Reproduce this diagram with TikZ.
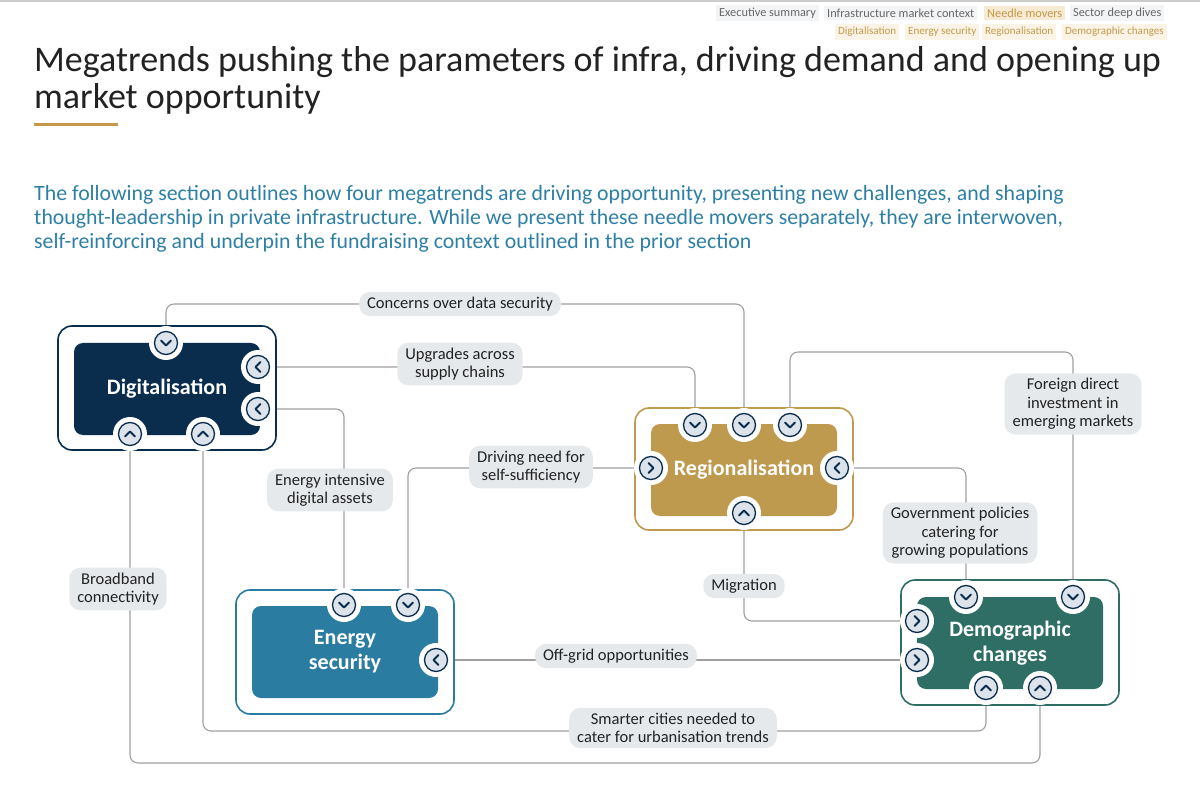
\documentclass[tikz,border=0pt]{standalone}
\usepackage{fontspec}
\setmainfont{Carlito}
\usetikzlibrary{backgrounds}
\definecolor{navy}{HTML}{0B2D4D}
\definecolor{eblue}{HTML}{2A7CA0}
\definecolor{gold}{HTML}{BE9A4E}
\definecolor{teal}{HTML}{2E6E65}
\definecolor{circ}{HTML}{DCE3EA}
\definecolor{pill}{HTML}{E6E9EC}
\definecolor{sub}{HTML}{2E7FA6}
\definecolor{ttl}{HTML}{222222}
\definecolor{goldtxt}{HTML}{C49A4A}
\definecolor{goldbg}{HTML}{F6EAD2}
\definecolor{tabbg}{HTML}{F3F4F5}
\definecolor{lgold}{HTML}{FBF3E6}
\tikzset{
 conn/.style={draw=gray!75, line width=1.1pt},
 lab/.style={fill=pill, rounded corners=11pt, align=center, font=\fontsize{16.5}{18.5}\selectfont, text=ttl, inner xsep=8pt, inner ysep=5pt},
 box/.style={rounded corners=9pt, minimum width=186pt, minimum height=92pt, text=white, font=\fontsize{22}{25}\selectfont\bfseries, align=center},
 frame/.style={rounded corners=14pt, line width=1.6pt},
 cir/.style={circle, minimum size=23pt, inner sep=0pt, fill=circ, draw=navy, line width=1.3pt},
 tab/.style={font=\fontsize{12.3}{14}\selectfont, text=gray!80!black, fill=tabbg, inner sep=3pt, anchor=west},
 stab/.style={font=\fontsize{11}{12}\selectfont, text=goldtxt, fill=lgold, inner sep=3pt, anchor=west},
}
\newcommand{\chev}[4]{%
 \node[cir] (#1) at (#2,#3) {};
 \draw[navy, line width=1.8pt, line cap=round, line join=round, rotate around={#4:(#1.center)}] ([xshift=-5pt,yshift=2.5pt]#1.center) -- ([yshift=-2.5pt]#1.center) -- ([xshift=5pt,yshift=2.5pt]#1.center);
}
\begin{document}
\begin{tikzpicture}[x=1pt,y=-1pt]
\useasboundingbox (0,0) rectangle (1200,786);
% nav
\draw[gray!40, line width=2pt] (0,1) -- (1200,1);
\node[tab] (t1) at (716,13) {Executive summary};
\node[tab] (t2) at (824,13) {Infrastructure market context};
\node[tab, fill=goldbg, text=goldtxt] (t3) at (984,13) {Needle movers};
\node[tab] (t4) at (1070,13) {Sector deep dives};
\node[stab] (s1) at (835,32) {Digitalisation};
\node[stab] (s2) at (905,32) {Energy security};
\node[stab] (s3) at (982,32) {Regionalisation};
\node[stab] (s4) at (1062,32) {Demographic changes};
% title
\node[anchor=north west, align=left, text=ttl, font=\fontsize{36}{37}\selectfont, inner sep=0pt] (title) at (34,46) {Megatrends pushing the parameters of infra, driving demand and opening up\\market opportunity};
\draw[goldtxt, line width=3pt] (34,125) -- (118,125);
\node[anchor=north west, align=left, text=sub, font=\fontsize{21.8}{24}\selectfont, inner sep=0pt] (subt) at (34,185) {The following section outlines how four megatrends are driving opportunity, presenting new challenges, and shaping\\thought-leadership in private infrastructure. While we present these needle movers separately, they are interwoven,\\self-reinforcing and underpin the fundraising context outlined in the prior section};
% frames
\draw[frame, navy] (58,326) rectangle (276,450);
\draw[frame, eblue] (236,590) rectangle (454,714);
\draw[frame, gold] (635,408) rectangle (853,530);
\draw[frame, teal] (901,580) rectangle (1119,705);
% boxes
\node[box, fill=navy] (dig) at (167,389) {Digitalisation};
\node[box, fill=eblue] (ene) at (345,652) {Energy\\security};
\node[box, fill=gold] (reg) at (744,470) {Regionalisation};
\node[box, fill=teal] (dem) at (1010,643) {Demographic\\changes};
% white gaps + circles
\foreach \x/\y in {166/343,258/367,258/409,130/434,203/434,344/605,408/605,436/660,695/425,744/425,790/425,651/468,837/468,744/513,966/597,1073/597,917/621,917/660,986/688,1040/688}
 \fill[white] (\x,\y) circle (17pt);
\chev{dT}{166}{343}{0}
\chev{dR1}{258}{367}{-90}
\chev{dR2}{258}{409}{-90}
\chev{dB1}{130}{434}{180}
\chev{dB2}{203}{434}{180}
\chev{eT1}{344}{605}{0}
\chev{eT2}{408}{605}{0}
\chev{eR}{436}{660}{-90}
\chev{rT1}{695}{425}{0}
\chev{rT2}{744}{425}{0}
\chev{rT3}{790}{425}{0}
\chev{rL}{651}{468}{90}
\chev{rR}{837}{468}{-90}
\chev{rB}{744}{513}{180}
\chev{mT1}{966}{597}{0}
\chev{mT2}{1073}{597}{0}
\chev{mL1}{917}{621}{90}
\chev{mL2}{917}{660}{90}
\chev{mB1}{986}{688}{180}
\chev{mB2}{1040}{688}{180}
% labels
\node[lab] (l1) at (460,304) {Concerns over data security};
\node[lab] (l2) at (460,364) {Upgrades across\\supply chains};
\node[lab] (l3) at (330,490) {Energy intensive\\digital assets};
\node[lab] (l4) at (531,467) {Driving need for\\self-sufficiency};
\node[lab] (l5) at (1073,404) {Foreign direct\\investment in\\emerging markets};
\node[lab] (l6) at (960,533) {Government policies\\catering for\\growing populations};
\node[lab] (l7) at (744,586) {Migration};
\node[lab] (l8) at (616,656) {Off-grid opportunities};
\node[lab] (l9) at (673,728) {Smarter cities needed to\\cater for urbanisation trends};
\node[lab] (l10) at (118,589) {Broadband\\connectivity};
% connectors
\coordinate (k1) at (166,304);
\coordinate (k5) at (790,352);
\coordinate (k9) at (203,731);
\coordinate (k10) at (130,763);
\coordinate (k4) at (408,468);
\coordinate (k7) at (744,621);
\begin{scope}[on background layer]
\draw[conn, rounded corners=8pt] (dT) -- (k1) -| (rT2);
\draw[conn, rounded corners=8pt] (dR1) -| (rT1);
\draw[conn, rounded corners=8pt] (dR2) -| (eT1);
\draw[conn, rounded corners=8pt] (eT2) -- (k4) -- (rL);
\draw[conn, rounded corners=8pt] (rT3) -- (k5) -| (mT2);
\draw[conn, rounded corners=8pt] (rR) -| (mT1);
\draw[conn, rounded corners=8pt] (rB) -- (k7) -- (mL1);
\draw[conn] (eR) -- (mL2);
\draw[conn, rounded corners=8pt] (dB2) -- (k9) -| (mB1);
\draw[conn, rounded corners=8pt] (dB1) -- (k10) -| (mB2);
\end{scope}
\end{tikzpicture}
\end{document}
